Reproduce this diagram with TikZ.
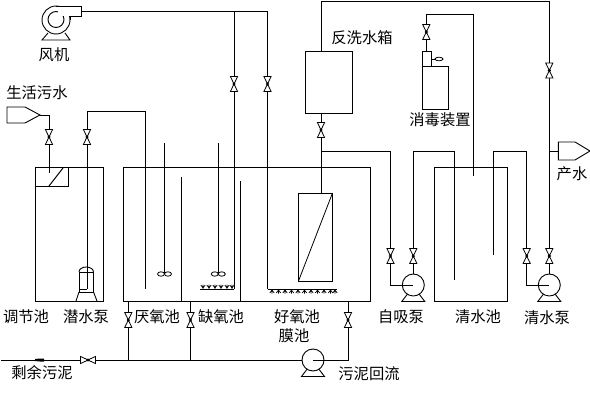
\documentclass[tikz,border=0pt]{standalone}
\usepackage{fontspec}
\setmainfont{Noto Sans CJK SC}
\tikzset{
  pipe/.style={line width=0.9pt,line join=miter},
  lbl/.style={inner sep=0pt,font=\fontsize{15.3}{16}\selectfont},
  tank/.style={draw,line width=0.9pt,rectangle,inner sep=0pt,outer sep=0pt,minimum width=#1},
  vvalve/.pic={
    \draw[line width=.8pt,fill=white] (-3.6,-7.5)--(3.6,-7.5)--(-3.6,7.5)--(3.6,7.5)--cycle;
    \fill (0,0) circle (1.7);
  },
  hvalve/.pic={
    \draw[line width=.8pt,fill=white] (-7.5,-3.6)--(-7.5,3.6)--(7.5,-3.6)--(7.5,3.6)--cycle;
    \fill (0,0) circle (1.7);
  },
  pumpbody/.pic={
    \draw[line width=.9pt,fill=white] (-5,8)--(-11.5,16.5)--(11.5,16.5)--(5,8);
    \draw[line width=.9pt,fill=white] (0,0) circle (11);
  },
  mixer/.pic={
    \draw[line width=.8pt,fill=white] (-3.5,0) ellipse (3.5 and 2.2);
    \draw[line width=.8pt,fill=white] (3.5,0) ellipse (3.5 and 2.2);
  },
  aerup/.pic={
    \draw[line width=.7pt] (0,0)--(0,-4.5) (-2.2,-4)--(0,-1) (2.2,-4)--(0,-1);
  },
  aerdown/.pic={
    \draw[line width=.7pt] (0,0)--(0,4.5) (-2.2,4)--(0,1) (2.2,4)--(0,1);
  },
}
\begin{document}
\begin{tikzpicture}[x=1pt,y=-1pt]
\useasboundingbox (0,0) rectangle (590,407);
% tanks
\node[tank=68,minimum height=134,anchor=north west] (tankA) at (35.5,167) {};
\node[tank=247,minimum height=134,anchor=north west] (tankB) at (123.5,167) {};
\node[tank=73,minimum height=134,anchor=north west] (tankC) at (434.5,167) {};
\node[tank=47,minimum height=62,anchor=north west] (wash) at (305.5,51) {};
\node[tank=34,minimum height=88,anchor=north west] (mem) at (298.5,193) {};
\node[tank=26,minimum height=43,anchor=north west] (dis) at (422.5,66) {};
\node[tank=9,minimum height=15,anchor=north west] (disTop) at (422.5,51) {};
\node[tank=32.5,minimum height=19,anchor=north west] (grid) at (35.5,167) {};
% coordinates
\coordinate (fanOut) at (81,11);
\coordinate (airR) at (267.5,11);
\coordinate (airL) at (234,11);
\coordinate (airLend) at (234,289);
\coordinate (airRend) at (267.5,289);
\coordinate (inTip) at (40,115);
\coordinate (inElbow) at (49,115);
\coordinate (inEnd) at (49,173);
\coordinate (subTop) at (87,111);
\coordinate (subElbow) at (145,111);
\coordinate (subEnd) at (145,289);
\coordinate (subIn) at (87,289);
\coordinate (top1) at (321,1);
\coordinate (top2) at (549.3,1);
\coordinate (j1) at (321,151);
\coordinate (p1a) at (390.5,151);
\coordinate (p1b) at (390.5,285);
\coordinate (p1c) at (413.3,285);
\coordinate (p1out) at (413.3,151);
\coordinate (p1d) at (454.3,151);
\coordinate (p1e) at (454.3,280);
\coordinate (disA) at (426.3,14);
\coordinate (disB) at (473.3,14);
\coordinate (disC) at (473.3,176);
\coordinate (p2a) at (493.5,254.5);
\coordinate (p2b) at (493.5,151);
\coordinate (p2c) at (526.7,151);
\coordinate (p2d) at (526.7,285);
\coordinate (p2e) at (549.3,285);
\coordinate (prodJ) at (549.3,151);
\coordinate (prodS) at (558.3,151);
\coordinate (mainL) at (1,360);
\coordinate (mainA) at (128.3,360);
\coordinate (mainB) at (190.5,360);
\coordinate (retPump) at (313,360);
\coordinate (retE) at (348,360);
\coordinate (retT) at (348,301);
\coordinate (outA) at (128.3,301);
\coordinate (outB) at (190.5,301);
% pipes
\draw[pipe] (fanOut)--(airR)--(airRend);
\draw[pipe] (airL)--(airLend);
\draw[pipe] (inTip)--(inElbow)--(inEnd);
\draw[pipe] (subIn)--(subTop)--(subElbow)--(subEnd);
\draw[pipe] (wash.north -| top1)--(top1)--(top2)--(p2e);
\draw[pipe] (wash.south -| j1)--(mem.north -| j1);
\draw[pipe] (j1)--(p1a)--(p1b)--(p1c);
\draw[pipe] (p1e)--(p1d)--(p1out)--(p1c);
\draw[pipe] (disTop.north -| disA)--(disA)--(disB)--(disC);
\draw[pipe] (p2a)--(p2b)--(p2c)--(p2d)--(p2e);
\draw[pipe] (prodJ)--(prodS);
\draw[pipe] (mainL)--(retPump);
\draw[pipe] (outA)--(mainA);
\draw[pipe] (outB)--(mainB);
\draw[pipe] (retPump)--(retE)--(retT);
% inner walls and stirrers
\coordinate (w1a) at (181.5,177); \coordinate (w1b) at (181.5,301);
\coordinate (w2a) at (240.5,181); \coordinate (w2b) at (240.5,301);
\coordinate (m1a) at (164.5,143); \coordinate (m1b) at (164.5,274);
\coordinate (m2a) at (218.3,143); \coordinate (m2b) at (218.3,274);
\draw[pipe] (w1a)--(w1b);
\draw[pipe] (w2a)--(w2b);
\draw[pipe] (m1a)--(m1b);
\draw[pipe] (m2a)--(m2b);
\pic at (m1b) {mixer};
\pic at (m2b) {mixer};
% membrane diagonal, grid slash
\draw[line width=.8pt] (mem.south west)--(mem.north east);
\draw[line width=1pt] (49,186)--(63,168);
% aeration
\draw[line width=.9pt] (200,289)--(airLend);
\foreach \x in {203,209,215,221,227,232} \pic at (\x,289) {aerup};
\draw[line width=.9pt] (airRend)--(337,289);
\foreach \x in {272,278.5,285,291.5,298,304.5,311,317.5,324,330.5,335} \pic at (\x,289) {aerdown};
% inlet + product shapes
\draw[line width=.9pt] (7,107)--(25,107)--(inTip)--(25,123)--(7,123)--cycle;
\draw[line width=.9pt] (558.3,142)--(575,142)--(590,151)--(575,160)--(558.3,160)--cycle;
% valves
\foreach \p in {(49,137),(87,137),(128.3,320),(190.5,320),(234,84),(267.5,84),(321,130),(348,320),(390.5,256),(413.3,256),(426.3,32),(526.7,256),(549.3,70.5),(549.3,256)}
  \pic at \p {vvalve};
\pic at (88,360) {hvalve};
% small arrow on main line
\fill (35,359)--(40,358.5)--(44,358.5)--(44,361.5)--(40,361.5)--(35,361)--cycle;
% fan
\draw[line width=.9pt] (48,33)--(42,40)--(70,40)--(65,33);
\draw[line width=.9pt,fill=white] (56,20) circle (14);
\draw[line width=.9pt] (56,19.5) circle (8);
\fill[white] (58,6.5) rectangle (80.5,15.5);
\draw[line width=.9pt] (56,6)--(81,6)--(81,16)--(70,16)--(70,20);
% submersible pump
\draw[line width=.9pt] (79,272) arc[start angle=180,end angle=360,x radius=7.25,y radius=5];
\draw[line width=.9pt] (79,292)--(79,272)--(93.5,272)--(93.5,292)--cycle;
\draw[line width=.9pt] (subIn)--(79,289);
\draw[line width=.9pt] (79,292)--(76,301) (93.5,292)--(97,301);
% centrifugal pumps
\pic at (413.3,285) {pumpbody};
\pic at (549.3,285) {pumpbody};
\pic at (313,360) {pumpbody};
\draw[pipe] (402.3,285)--(p1c);
\draw[pipe] (538.3,285)--(p2e);
\draw[pipe] (313,360)--(324,360);
% disinfection dosing
\coordinate (dosA) at (431.5,59);
\draw[line width=.8pt] (dosA)--(435,59);
\draw[line width=.8pt] (439,59) ellipse (4 and 1.8);
% labels
\node[lbl] (tFan) at (54,55) {风机};
\node[lbl] (tIn) at (37,93) {生活污水};
\node[lbl] (tA) at (26,317) {调节池};
\node[lbl] (tB) at (86,317) {潜水泵};
\node[lbl] (tC) at (157,317) {厌氧池};
\node[lbl] (tD) at (221,317) {缺氧池};
\node[lbl] (tE) at (297,317) {好氧池};
\node[lbl] (tF) at (294,336) {膜池};
\node[lbl] (tG) at (369,374) {污泥回流};
\node[lbl] (tH) at (401,317) {自吸泵};
\node[lbl] (tI) at (478,317) {清水池};
\node[lbl] (tJ) at (547,318) {清水泵};
\node[lbl] (tK) at (42,373) {剩余污泥};
\node[lbl] (tL) at (362,38) {反洗水箱};
\node[lbl] (tM) at (440,120) {消毒装置};
\node[lbl] (tN) at (572,174) {产水};
\end{tikzpicture}
\end{document}
